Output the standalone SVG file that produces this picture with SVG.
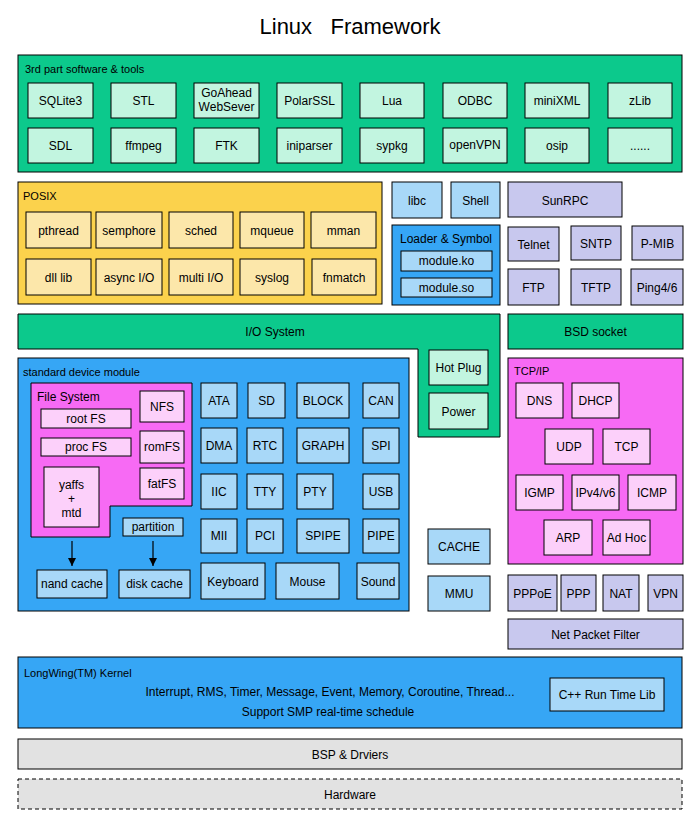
<svg xmlns="http://www.w3.org/2000/svg" width="700" height="820" viewBox="0 0 700 820">
<style>
text{font-family:"Liberation Sans",Arial,sans-serif;font-size:12px;fill:#000;}
.c{text-anchor:middle;}
.lbl{font-size:11px;}
.b{stroke:#000;stroke-width:1;}
.green{fill:#0CC98C;}
.mint{fill:#C2F5E0;}
.gold{fill:#FBD24C;}
.pale{fill:#FCE7AA;}
.blue{fill:#36A6F5;}
.ltblue{fill:#A8D8F8;}
.lav{fill:#C8C8EE;}
.mag{fill:#F76AF4;}
.pink{fill:#FCD0FA;}
.gray{fill:#E2E2E2;}
</style>
<defs>
<marker id="arr" viewBox="0 0 10 10" refX="10" refY="5" markerWidth="7" markerHeight="7" orient="auto">
<path d="M0,0 L10,5 L0,10 z" fill="#000"/>
</marker>
</defs>
<rect width="700" height="820" fill="#fff"/>
<text x="350" y="34" class="c" style="font-size:22px" xml:space="preserve">Linux   Framework</text>

<g id="thirdparty">
<rect x="18" y="55" width="664" height="117" class="b green"/>
<text x="25" y="73" class="lbl">3rd part software &amp; tools</text>
<g id="sqlite3"><rect x="28" y="83" width="65" height="35" class="b mint"/><text x="60.5" y="105" class="c">SQLite3</text></g>
<g id="stl"><rect x="111" y="83" width="65" height="35" class="b mint"/><text x="143.5" y="105" class="c">STL</text></g>
<g id="goahead"><rect x="194" y="83" width="65" height="35" class="b mint"/><text x="226.5" y="97" class="c">GoAhead</text><text x="226.5" y="111" class="c">WebSever</text></g>
<g id="polarssl"><rect x="277" y="83" width="65" height="35" class="b mint"/><text x="309.5" y="105" class="c">PolarSSL</text></g>
<g id="lua"><rect x="360" y="83" width="64" height="35" class="b mint"/><text x="392" y="105" class="c">Lua</text></g>
<g id="odbc"><rect x="443" y="83" width="64" height="35" class="b mint"/><text x="475" y="105" class="c">ODBC</text></g>
<g id="minixml"><rect x="525" y="83" width="64" height="35" class="b mint"/><text x="557" y="105" class="c">miniXML</text></g>
<g id="zlib"><rect x="608" y="83" width="64" height="35" class="b mint"/><text x="640" y="105" class="c">zLib</text></g>
<g id="sdl"><rect x="28" y="128" width="65" height="35" class="b mint"/><text x="60.5" y="150" class="c">SDL</text></g>
<g id="ffmpeg"><rect x="111" y="128" width="65" height="35" class="b mint"/><text x="143.5" y="150" class="c">ffmpeg</text></g>
<g id="ftk"><rect x="194" y="128" width="65" height="35" class="b mint"/><text x="226.5" y="150" class="c">FTK</text></g>
<g id="iniparser"><rect x="277" y="128" width="65" height="35" class="b mint"/><text x="309.5" y="150" class="c">iniparser</text></g>
<g id="sypkg"><rect x="360" y="128" width="64" height="35" class="b mint"/><text x="392" y="150" class="c">sypkg</text></g>
<g id="openvpn"><rect x="443" y="128" width="64" height="35" class="b mint"/><text x="475" y="149" class="c">openVPN</text></g>
<g id="osip"><rect x="525" y="128" width="64" height="35" class="b mint"/><text x="557" y="150" class="c">osip</text></g>
<g id="more"><rect x="608" y="128" width="64" height="35" class="b mint"/><text x="640" y="150" class="c">......</text></g>
</g>

<g id="posix">
<rect x="18" y="182" width="364" height="122" class="b gold"/>
<text x="23" y="200" class="lbl">POSIX</text>
<g id="pthread"><rect x="26" y="212" width="65" height="36" class="b pale"/><text x="58.5" y="235" class="c">pthread</text></g>
<g id="semphore"><rect x="96" y="212" width="66" height="36" class="b pale"/><text x="129" y="235" class="c">semphore</text></g>
<g id="sched"><rect x="169" y="212" width="64" height="36" class="b pale"/><text x="201" y="235" class="c">sched</text></g>
<g id="mqueue"><rect x="240" y="212" width="64" height="36" class="b pale"/><text x="272" y="235" class="c">mqueue</text></g>
<g id="mman"><rect x="311" y="212" width="65" height="36" class="b pale"/><text x="343.5" y="235" class="c">mman</text></g>
<g id="dlllib"><rect x="26" y="259" width="65" height="36" class="b pale"/><text x="58.5" y="282" class="c">dll lib</text></g>
<g id="asyncio"><rect x="96" y="259" width="66" height="36" class="b pale"/><text x="129" y="282" class="c">async I/O</text></g>
<g id="multiio"><rect x="169" y="259" width="64" height="36" class="b pale"/><text x="201" y="282" class="c">multi I/O</text></g>
<g id="syslog"><rect x="240" y="259" width="64" height="36" class="b pale"/><text x="272" y="282" class="c">syslog</text></g>
<g id="fnmatch"><rect x="312" y="259" width="64" height="36" class="b pale"/><text x="344" y="282" class="c">fnmatch</text></g>
</g>

<g id="libc"><rect x="392" y="182" width="50" height="36" class="b ltblue"/><text x="417" y="205" class="c">libc</text></g>
<g id="shell"><rect x="451" y="182" width="49" height="36" class="b ltblue"/><text x="475.5" y="205" class="c">Shell</text></g>
<g id="sunrpc"><rect x="508" y="182" width="114" height="35" class="b lav"/><text x="565" y="205" class="c">SunRPC</text></g>

<g id="loader">
<rect x="392" y="225" width="108" height="80" class="b blue"/>
<text x="446" y="243" class="c">Loader &amp; Symbol</text>
<g id="moduleko"><rect x="401" y="251" width="91" height="20" class="b ltblue"/><text x="446.5" y="265" class="c">module.ko</text></g>
<g id="moduleso"><rect x="401" y="278" width="91" height="19" class="b ltblue"/><text x="446.5" y="292" class="c">module.so</text></g>
</g>

<g id="telnet"><rect x="508" y="227" width="51" height="34" class="b lav"/><text x="533.5" y="249" class="c">Telnet</text></g>
<g id="sntp"><rect x="571" y="226" width="50" height="34" class="b lav"/><text x="596" y="248" class="c">SNTP</text></g>
<g id="pmib"><rect x="632" y="226" width="51" height="34" class="b lav"/><text x="657.5" y="248" class="c">P-MIB</text></g>
<g id="ftp"><rect x="508" y="269" width="51" height="36" class="b lav"/><text x="533.5" y="292" class="c">FTP</text></g>
<g id="tftp"><rect x="571" y="269" width="50" height="36" class="b lav"/><text x="596" y="292" class="c">TFTP</text></g>
<g id="ping"><rect x="631" y="269" width="52" height="36" class="b lav"/><text x="657" y="292" class="c">Ping4/6</text></g>

<g id="iosystem">
<path d="M18,314 H500 V437 H418 V349 H18 Z" class="b green"/>
<text x="275" y="336" class="c">I/O System</text>
<g id="hotplug"><rect x="429" y="350" width="59" height="35" class="b mint"/><text x="458.5" y="372" class="c">Hot Plug</text></g>
<g id="power"><rect x="429" y="393" width="59" height="36" class="b mint"/><text x="458.5" y="416" class="c">Power</text></g>
</g>

<g id="bsdsocket"><rect x="508" y="314" width="175" height="35" class="b green"/><text x="595.5" y="336" class="c">BSD socket</text></g>

<g id="stddev">
<rect x="18" y="358" width="391" height="253" class="b blue"/>
<text x="23" y="376" class="lbl">standard device module</text>
<g id="filesystem">
<path d="M31,383 H192 V506 H110 V537 H31 Z" class="b mag"/>
<text x="37" y="401">File System</text>
<g id="rootfs"><rect x="41" y="409" width="90" height="19" class="b pink"/><text x="86" y="423" class="c">root FS</text></g>
<g id="procfs"><rect x="41" y="438" width="90" height="18" class="b pink"/><text x="86" y="451" class="c">proc FS</text></g>
<g id="yaffs"><rect x="44" y="467" width="55" height="60" class="b pink"/><text x="71.5" y="489" class="c">yaffs</text><text x="71.5" y="503" class="c">+</text><text x="71.5" y="517" class="c">mtd</text></g>
<g id="nfs"><rect x="140" y="391" width="44" height="31" class="b pink"/><text x="162" y="411" class="c">NFS</text></g>
<g id="romfs"><rect x="140" y="431" width="44" height="32" class="b pink"/><text x="162" y="451" class="c">romFS</text></g>
<g id="fatfs"><rect x="140" y="468" width="44" height="31" class="b pink"/><text x="162" y="488" class="c">fatFS</text></g>
</g>
<g id="partition"><rect x="123" y="518" width="60" height="18" class="b ltblue"/><text x="153" y="531" class="c">partition</text></g>
<g id="nandcache"><rect x="37" y="570" width="70" height="28" class="b ltblue"/><text x="72" y="588" class="c">nand cache</text></g>
<g id="diskcache"><rect x="119" y="570" width="71" height="28" class="b ltblue"/><text x="154.5" y="588" class="c">disk cache</text></g>
<g id="ata"><rect x="201" y="383" width="36" height="35" class="b ltblue"/><text x="219" y="405" class="c">ATA</text></g>
<g id="sd"><rect x="248" y="383" width="37" height="35" class="b ltblue"/><text x="266.5" y="405" class="c">SD</text></g>
<g id="block"><rect x="297" y="383" width="52" height="35" class="b ltblue"/><text x="323" y="405" class="c">BLOCK</text></g>
<g id="can"><rect x="363" y="383" width="36" height="35" class="b ltblue"/><text x="381" y="405" class="c">CAN</text></g>
<g id="dma"><rect x="201" y="428" width="36" height="35" class="b ltblue"/><text x="219" y="450" class="c">DMA</text></g>
<g id="rtc"><rect x="247" y="428" width="36" height="35" class="b ltblue"/><text x="265" y="450" class="c">RTC</text></g>
<g id="graph"><rect x="297" y="428" width="52" height="35" class="b ltblue"/><text x="323" y="450" class="c">GRAPH</text></g>
<g id="spi"><rect x="363" y="428" width="36" height="35" class="b ltblue"/><text x="381" y="450" class="c">SPI</text></g>
<g id="iic"><rect x="201" y="474" width="36" height="35" class="b ltblue"/><text x="219" y="496" class="c">IIC</text></g>
<g id="tty"><rect x="247" y="474" width="36" height="35" class="b ltblue"/><text x="265" y="496" class="c">TTY</text></g>
<g id="pty"><rect x="297" y="474" width="36" height="35" class="b ltblue"/><text x="315" y="496" class="c">PTY</text></g>
<g id="usb"><rect x="363" y="474" width="36" height="35" class="b ltblue"/><text x="381" y="496" class="c">USB</text></g>
<g id="mii"><rect x="201" y="519" width="36" height="34" class="b ltblue"/><text x="219" y="540" class="c">MII</text></g>
<g id="pci"><rect x="247" y="519" width="36" height="34" class="b ltblue"/><text x="265" y="540" class="c">PCI</text></g>
<g id="spipe"><rect x="297" y="519" width="52" height="34" class="b ltblue"/><text x="323" y="540" class="c">SPIPE</text></g>
<g id="pipe"><rect x="363" y="519" width="36" height="34" class="b ltblue"/><text x="381" y="540" class="c">PIPE</text></g>
<g id="keyboard"><rect x="201" y="563" width="64" height="36" class="b ltblue"/><text x="233" y="586" class="c">Keyboard</text></g>
<g id="mouse"><rect x="276" y="563" width="63" height="36" class="b ltblue"/><text x="307.5" y="586" class="c">Mouse</text></g>
<g id="sound"><rect x="357" y="563" width="42" height="36" class="b ltblue"/><text x="378" y="586" class="c">Sound</text></g>
</g>

<g id="cache"><rect x="428" y="529" width="62" height="35" class="b ltblue"/><text x="459" y="551" class="c">CACHE</text></g>
<g id="mmu"><rect x="428" y="576" width="62" height="35" class="b ltblue"/><text x="459" y="598" class="c">MMU</text></g>

<g id="tcpip">
<rect x="508" y="358" width="175" height="206" class="b mag"/>
<text x="514" y="375" class="lbl">TCP/IP</text>
<g id="dns"><rect x="516" y="383" width="47" height="35" class="b pink"/><text x="539.5" y="405" class="c">DNS</text></g>
<g id="dhcp"><rect x="572" y="383" width="47" height="35" class="b pink"/><text x="595.5" y="405" class="c">DHCP</text></g>
<g id="udp"><rect x="545" y="429" width="48" height="35" class="b pink"/><text x="569" y="451" class="c">UDP</text></g>
<g id="tcp"><rect x="603" y="429" width="47" height="35" class="b pink"/><text x="626.5" y="451" class="c">TCP</text></g>
<g id="igmp"><rect x="516" y="475" width="47" height="35" class="b pink"/><text x="539.5" y="497" class="c">IGMP</text></g>
<g id="ipv4v6"><rect x="572" y="475" width="47" height="35" class="b pink"/><text x="595.5" y="497" class="c">IPv4/v6</text></g>
<g id="icmp"><rect x="628" y="475" width="48" height="35" class="b pink"/><text x="652" y="497" class="c">ICMP</text></g>
<g id="arp"><rect x="544" y="520" width="48" height="35" class="b pink"/><text x="568" y="542" class="c">ARP</text></g>
<g id="adhoc"><rect x="603" y="520" width="47" height="35" class="b pink"/><text x="626.5" y="542" class="c">Ad Hoc</text></g>
</g>

<g id="pppoe"><rect x="508" y="575" width="49" height="36" class="b lav"/><text x="532.5" y="598" class="c">PPPoE</text></g>
<g id="ppp"><rect x="561" y="575" width="35" height="36" class="b lav"/><text x="578.5" y="598" class="c">PPP</text></g>
<g id="nat"><rect x="603" y="575" width="36" height="36" class="b lav"/><text x="621" y="598" class="c">NAT</text></g>
<g id="vpn"><rect x="648" y="575" width="35" height="36" class="b lav"/><text x="665.5" y="598" class="c">VPN</text></g>
<g id="netfilter"><rect x="508" y="619" width="175" height="30" class="b lav"/><text x="595.5" y="639" class="c">Net Packet Filter</text></g>

<g id="kernel">
<rect x="18" y="657" width="664" height="71" class="b blue"/>
<text x="24" y="677" class="lbl">LongWing(TM) Kernel</text>
<text x="330" y="696" class="c">Interrupt, RMS, Timer, Message, Event, Memory, Coroutine, Thread...</text>
<text x="328" y="716" class="c">Support SMP real-time schedule</text>
<g id="cpprt"><rect x="550" y="678" width="114" height="33" class="b ltblue"/><text x="607" y="699" class="c">C++ Run Time Lib</text></g>
</g>

<g id="bsp"><rect x="18" y="739" width="664" height="30" class="b gray"/><text x="350" y="759" class="c">BSP &amp; Drviers</text></g>
<g id="hardware"><rect x="18" y="779" width="664" height="30" fill="#E2E2E2" stroke="#000" stroke-dasharray="4,3"/><text x="350" y="799" class="c">Hardware</text></g>

<g id="connectors">
<line x1="72" y1="541" x2="72" y2="566" stroke="#000" stroke-width="1.2" marker-end="url(#arr)"/>
<line x1="153" y1="541" x2="153" y2="566" stroke="#000" stroke-width="1.2" marker-end="url(#arr)"/>
</g>
</svg>
